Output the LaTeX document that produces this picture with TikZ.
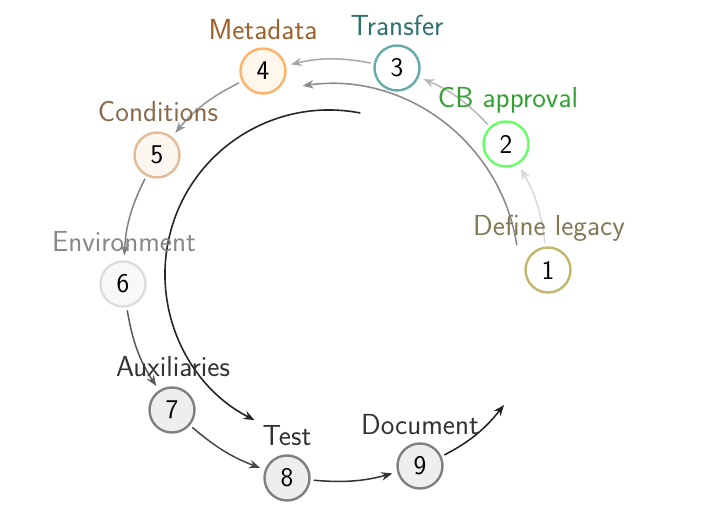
\documentclass[tikz,border=0pt]{standalone}
\usetikzlibrary{arrows.meta,calc}
\definecolor{c1}{HTML}{C2B66A}
\definecolor{l1}{HTML}{807A55}
\definecolor{c2}{HTML}{66FF66}
\definecolor{l2}{HTML}{33A033}
\definecolor{c3}{HTML}{66AAAA}
\definecolor{l3}{HTML}{2F6F6F}
\definecolor{c4}{HTML}{FFB366}
\definecolor{f4}{HTML}{FFF6EC}
\definecolor{l4}{HTML}{A0602A}
\definecolor{c5}{HTML}{E2BC96}
\definecolor{f5}{HTML}{FCF6F0}
\definecolor{l5}{HTML}{8A6A4A}
\definecolor{c6}{HTML}{DDDDDD}
\definecolor{f6}{HTML}{F8F8F8}
\definecolor{l6}{HTML}{888888}
\definecolor{c7}{HTML}{808080}
\definecolor{f7}{HTML}{EEEEEE}
\definecolor{l7}{HTML}{333333}
\begin{document}
\begin{tikzpicture}[x=1pt,y=1pt,
  stepnode/.style={circle,minimum size=45pt,inner sep=0pt,line width=2.4pt,
    font=\sffamily\fontsize{27}{32}\selectfont},
  lbl/.style={font=\sffamily\fontsize{29}{34}\selectfont},
  conn/.style={line width=1.5pt,-{Stealth[length=11pt,width=8.5pt]},shorten >=5pt,shorten <=3pt}]
\useasboundingbox (0,0) rectangle (702,522);
\node[stepnode,draw=c1,fill=white] (n1) at (548,252) {1};
\node[stepnode,draw=c2,fill=white] (n2) at (506,378) {2};
\node[stepnode,draw=c3,fill=white] (n3) at (397,454) {3};
\node[stepnode,draw=c4,fill=f4] (n4) at (263,451) {4};
\node[stepnode,draw=c5,fill=f5] (n5) at (157,367) {5};
\node[stepnode,draw=c6,fill=f6] (n6) at (123,238) {6};
\node[stepnode,draw=c7,fill=f7] (n7) at (172,112) {7};
\node[stepnode,draw=c7,fill=f7] (n8) at (287,44) {8};
\node[stepnode,draw=c7,fill=f7] (n9) at (420,56) {9};
\coordinate (out) at (504,117);
\coordinate (cb) at (329,248);
\coordinate (ga) at ($(cb)+(8.7:190)$);
\coordinate (ba) at ($(cb)+(79:164)$);
% big arcs
\draw[line width=1.6pt,color=black!45,-{Stealth[length=11pt,width=8.5pt]}] (ga) arc[start angle=8.7,end angle=98,radius=190];
\draw[line width=1.6pt,color=black!85,-{Stealth[length=11pt,width=8.5pt]}] (ba) arc[start angle=79,end angle=243,radius=164];
% connectors
\draw[conn,color=black!15] (n1) to[bend right=12] (n2);
\draw[conn,color=black!28] (n2) to[bend right=12] (n3);
\draw[conn,color=black!35] (n3) to[bend right=12] (n4);
\draw[conn,color=black!42] (n4) to[bend right=12] (n5);
\draw[conn,color=black!50] (n5) to[bend right=12] (n6);
\draw[conn,color=black!65] (n6) to[bend right=12] (n7);
\draw[conn,color=black!72] (n7) to[bend right=10] (n8);
\draw[conn,color=black!80] (n8) to[bend right=10] (n9);
\draw[conn,color=black!88,shorten >=0pt] (n9) to[bend right=12] (out);
% labels
\node[lbl,text=l1] (t1) at (549,294) {Define legacy};
\node[lbl,text=l2] (t2) at (508,422) {CB approval};
\node[lbl,text=l3] (t3) at (397,497) {Transfer};
\node[lbl,text=l4] (t4) at (263,492) {Metadata};
\node[lbl,text=l5] (t5) at (158,410) {Conditions};
\node[lbl,text=l6] (t6) at (124,280) {Environment};
\node[lbl,text=l7] (t7) at (173,155) {Auxiliaries};
\node[lbl,text=l7] (t8) at (287,86) {Test};
\node[lbl,text=l7] (t9) at (420,97) {Document};
\end{tikzpicture}
\end{document}
